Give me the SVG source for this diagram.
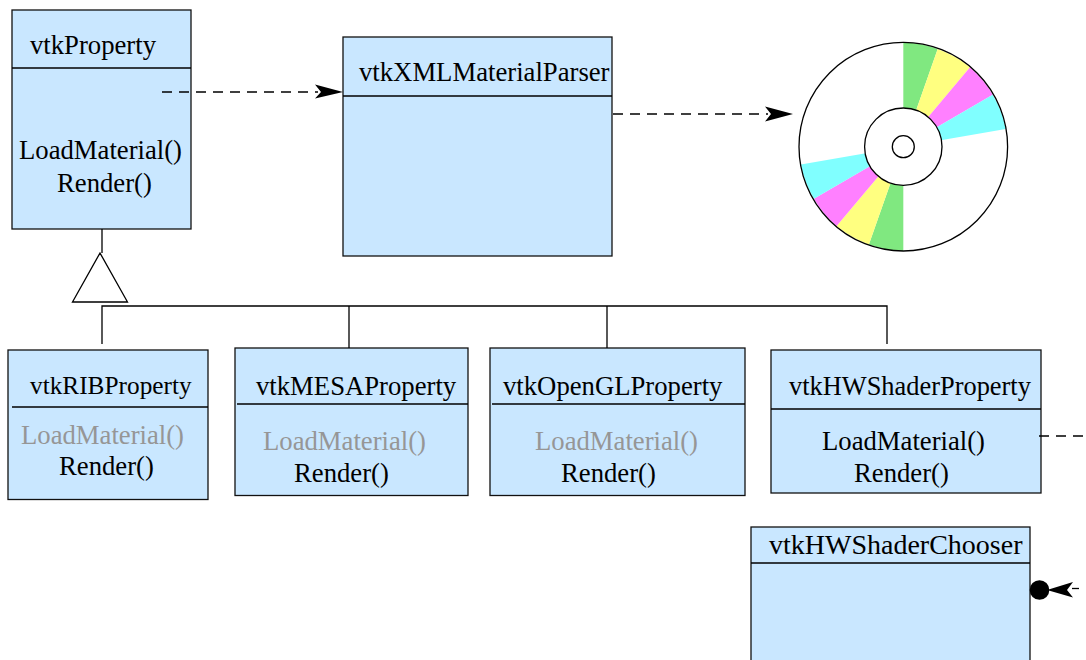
<svg xmlns="http://www.w3.org/2000/svg" width="1086" height="660" viewBox="0 0 1086 660">
<style>
.box{fill:#c9e7ff;stroke:#111;stroke-width:1.3}
.ln{fill:none;stroke:#000;stroke-width:1.3}
.dash{fill:none;stroke:#000;stroke-width:1.3;stroke-dasharray:10 7}
text{font-family:"Liberation Serif","Times New Roman",serif;font-size:26.700px;fill:#000}
.g{fill:#969696}
.ah{fill:#000}
</style>
<rect width="1086" height="660" fill="#fff"/>
<g id="vtkProperty">
<rect class="box" x="12" y="10" width="179" height="219"/>
<path class="ln" d="M12 68H191"/>
<text x="30" y="53.700">vtkProperty</text>
<text x="19" y="158.700">LoadMaterial()</text>
<text x="57" y="191.700">Render()</text>
</g>
<g id="vtkXMLMaterialParser">
<rect class="box" x="343" y="37" width="269" height="219"/>
<path class="ln" d="M343 96H612"/>
<text x="359" y="80.500">vtkXMLMaterialParser</text>
</g>
<g id="disc">
<circle cx="903.3" cy="146.7" r="104.3" fill="#fff"/>
<path fill="#80e880" d="M903.3 42.5A104.3 104.3 0 0 1 937.7 49L903.3 146.7Z"/>
<path fill="#ffff80" d="M937.7 49A104.3 104.3 0 0 1 970 67.3L903.3 146.7Z"/>
<path fill="#ff80ff" d="M970 67.3A104.3 104.3 0 0 1 992.7 94.7L903.3 146.7Z"/>
<path fill="#80ffff" d="M992.7 94.7A104.3 104.3 0 0 1 1005.7 129L903.3 146.7Z"/>
<path fill="#80e880" d="M903.3 250.9A104.3 104.3 0 0 1 868.9 244.4L903.3 146.7Z"/>
<path fill="#ffff80" d="M868.9 244.4A104.3 104.3 0 0 1 836.6 226.1L903.3 146.7Z"/>
<path fill="#ff80ff" d="M836.6 226.1A104.3 104.3 0 0 1 813.9 198.7L903.3 146.7Z"/>
<path fill="#80ffff" d="M813.9 198.7A104.3 104.3 0 0 1 800.9 164.4L903.3 146.7Z"/>
<circle class="ln" cx="903.3" cy="146.7" r="104.3"/>
<circle class="ln" cx="903.3" cy="146.7" r="38.7" style="fill:#fff"/>
<circle class="ln" cx="903.3" cy="146.7" r="11"/>
</g>
<g id="vtkRIBProperty">
<rect class="box" x="8" y="350" width="200" height="149.500"/>
<path class="ln" d="M12 407H208"/>
<text x="30" y="393.700" style="font-size:25.300px">vtkRIBProperty</text>
<text class="g" x="21" y="443.700">LoadMaterial()</text>
<text x="59" y="474.700">Render()</text>
</g>
<g id="vtkMESAProperty">
<rect class="box" x="235" y="348" width="233" height="147.500"/>
<path class="ln" d="M237 404H468"/>
<text x="256" y="394.700">vtkMESAProperty</text>
<text class="g" x="263" y="449.700">LoadMaterial()</text>
<text x="294" y="481.700">Render()</text>
</g>
<g id="vtkOpenGLProperty">
<rect class="box" x="490" y="348" width="255" height="147.500"/>
<path class="ln" d="M492 404H745"/>
<text x="503" y="394.700">vtkOpenGLProperty</text>
<text class="g" x="535" y="449.700">LoadMaterial()</text>
<text x="561" y="481.700">Render()</text>
</g>
<g id="vtkHWShaderProperty">
<rect class="box" x="771" y="350" width="270" height="143"/>
<path class="ln" d="M771 409H1041"/>
<text x="789" y="394.700" style="font-size:26.400px">vtkHWShaderProperty</text>
<text x="822" y="449.700">LoadMaterial()</text>
<text x="854" y="481.700">Render()</text>
</g>
<g id="vtkHWShaderChooser">
<rect class="box" x="751" y="527" width="279" height="140"/>
<path class="ln" d="M751 563H1030"/>
<text x="769" y="553.700" style="font-size:28px">vtkHWShaderChooser</text>
</g>
<g id="connectors">
<path class="dash" d="M162 92H318"/>
<path class="ah" d="M343 92L315 84.500L321 92L315 98.500Z"/>
<path class="dash" d="M613 114H768"/>
<path class="ah" d="M793 114L765 106.500L771 114L765 121.500Z"/>
<path class="dash" d="M1039 436H1086"/>
<path class="ln" d="M102 229V253"/>
<path d="M100 253L72.500 302H127.500Z" fill="#fff" stroke="#000" stroke-width="1.3"/>
<path class="ln" d="M102 344V306H887V344"/>
<path class="ln" d="M349 306V348M607 306V348"/>
<circle class="ah" cx="1039.500" cy="590" r="9.800"/>
<path class="ah" d="M1047 590L1073 582L1067 590L1073 597.500Z"/>
<path class="ln" d="M1072 588.500H1079"/>
</g>
</svg>
